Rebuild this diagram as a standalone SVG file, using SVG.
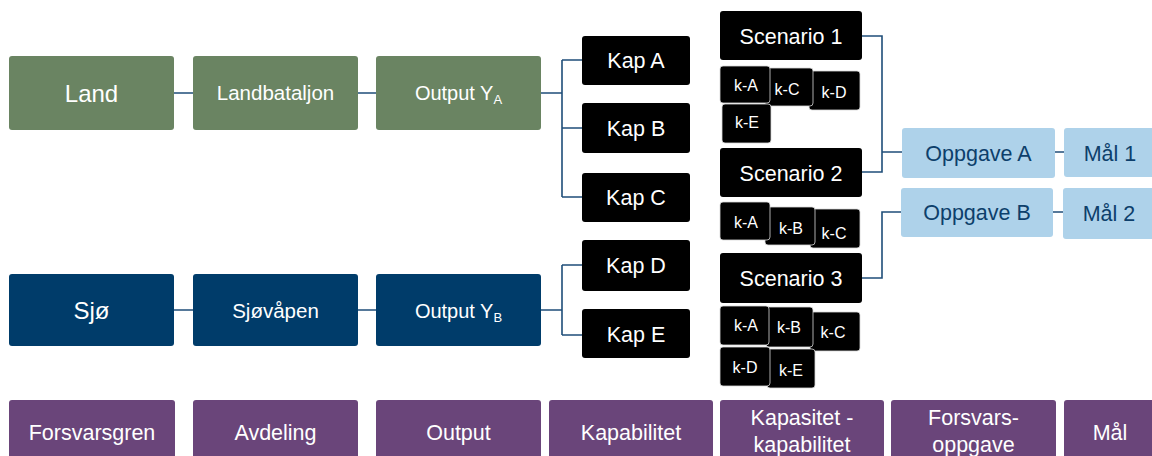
<svg xmlns="http://www.w3.org/2000/svg" width="1152" height="456" viewBox="0 0 1152 456">
<style>
text{font-family:"Liberation Sans",Arial,sans-serif;text-anchor:middle;fill:#fff}
.g{fill:#6A8462}
.n{fill:#003C6A}
.b{fill:#000}
.k{fill:#000;stroke:#d8d8d8;stroke-width:0.8}
.l{fill:#AED2EA}
.p{fill:#6A457A}
.dt{fill:#0D3F6B}
.c{fill:none;stroke:#1F4E79;stroke-width:1.6}
</style>
<rect width="1152" height="456" fill="#fff"/>
<g id="connectors">
<path class="c" d="M174 93H193M358 93H376M541 93H562M562 60V197M562 60H582M562 128H582M562 197H582"/>
<path class="c" d="M174 310H193M358 310H376M541 310H562M562 265V335M562 265H582M562 335H582"/>
<path class="c" d="M862 36H882V172H862M882 152H902M862 278H882V212H901M1055 152H1064M1053 212H1063"/>
</g>
<g id="land"><rect class="g" x="9" y="56" width="165" height="74" rx="3"/><text x="91.5" y="101.5" font-size="24">Land</text></g>
<g id="landbataljon"><rect class="g" x="193" y="56" width="165" height="74" rx="3"/><text x="275.5" y="100" font-size="20.5">Landbataljon</text></g>
<g id="outputA"><rect class="g" x="376" y="56" width="165" height="74" rx="3"/><text x="458.5" y="100" font-size="20">Output Y<tspan font-size="13" dy="4">A</tspan></text></g>
<g id="sjo"><rect class="n" x="9" y="274" width="165" height="72" rx="3"/><text x="91.5" y="318.5" font-size="24">Sjø</text></g>
<g id="sjovapen"><rect class="n" x="193" y="274" width="165" height="72" rx="3"/><text x="275.5" y="317.5" font-size="20.5">Sjøvåpen</text></g>
<g id="outputB"><rect class="n" x="376" y="274" width="165" height="72" rx="3"/><text x="458.5" y="317.5" font-size="20">Output Y<tspan font-size="13" dy="4">B</tspan></text></g>
<g id="kapA"><rect class="b" x="582" y="36" width="108" height="49" rx="3"/><text x="636" y="68" font-size="21.5">Kap A</text></g>
<g id="kapB"><rect class="b" x="582" y="103" width="108" height="50" rx="3"/><text x="636" y="136" font-size="21.5">Kap B</text></g>
<g id="kapC"><rect class="b" x="582" y="173" width="108" height="49" rx="3"/><text x="636" y="205" font-size="21.5">Kap C</text></g>
<g id="kapD"><rect class="b" x="582" y="240" width="108" height="51" rx="3"/><text x="636" y="273" font-size="21.5">Kap D</text></g>
<g id="kapE"><rect class="b" x="582" y="309" width="108" height="49" rx="3"/><text x="636" y="341.5" font-size="21.5">Kap E</text></g>
<g id="scenario1"><rect class="b" x="720" y="11" width="142" height="49" rx="3"/><text x="791" y="43.5" font-size="21.5">Scenario 1</text></g>
<g id="s1-kD"><rect class="k" x="809" y="71" width="51" height="39" rx="3"/><text x="834" y="97.5" font-size="16">k-D</text></g>
<g id="s1-kC"><rect class="k" x="765" y="68" width="48" height="38" rx="3"/><text x="787" y="95" font-size="16">k-C</text></g>
<g id="s1-kA"><rect class="k" x="720" y="66" width="50" height="37" rx="3"/><text x="746" y="91" font-size="16">k-A</text></g>
<g id="s1-kE"><rect class="k" x="722" y="104" width="49" height="39" rx="3"/><text x="747" y="127.5" font-size="16">k-E</text></g>
<g id="scenario2"><rect class="b" x="720" y="148" width="142" height="49" rx="3"/><text x="791" y="180.5" font-size="21.5">Scenario 2</text></g>
<g id="s2-kC"><rect class="k" x="810" y="209" width="50" height="39" rx="3"/><text x="834" y="239" font-size="16">k-C</text></g>
<g id="s2-kB"><rect class="k" x="765" y="207" width="50" height="38" rx="3"/><text x="791" y="234" font-size="16">k-B</text></g>
<g id="s2-kA"><rect class="k" x="720" y="202" width="50" height="38" rx="3"/><text x="746" y="227.5" font-size="16">k-A</text></g>
<g id="scenario3"><rect class="b" x="720" y="253" width="142" height="50" rx="3"/><text x="791" y="286" font-size="21.5">Scenario 3</text></g>
<g id="s3-kC"><rect class="k" x="810" y="312" width="50" height="39" rx="3"/><text x="833" y="337.5" font-size="16">k-C</text></g>
<g id="s3-kB"><rect class="k" x="766" y="307" width="47" height="40" rx="3"/><text x="789" y="332.5" font-size="16">k-B</text></g>
<g id="s3-kA"><rect class="k" x="720" y="306" width="49" height="39" rx="3"/><text x="746" y="331" font-size="16">k-A</text></g>
<g id="s3-kE"><rect class="k" x="767" y="349" width="48" height="39" rx="3"/><text x="791" y="376" font-size="16">k-E</text></g>
<g id="s3-kD"><rect class="k" x="720" y="347" width="50" height="39" rx="3"/><text x="745" y="372.5" font-size="16">k-D</text></g>
<g id="oppgaveA"><rect class="l" x="902" y="128" width="153" height="50" rx="3"/><text class="dt" x="978.5" y="161" font-size="21.5">Oppgave A</text></g>
<g id="mal1"><rect class="l" x="1064" y="128" width="92" height="49" rx="3"/><text class="dt" x="1110" y="160.5" font-size="21.5">Mål 1</text></g>
<g id="oppgaveB"><rect class="l" x="901" y="188" width="152" height="49" rx="3"/><text class="dt" x="977" y="220" font-size="21.5">Oppgave B</text></g>
<g id="mal2"><rect class="l" x="1063" y="188" width="93" height="51" rx="3"/><text class="dt" x="1109" y="221" font-size="21.5">Mål 2</text></g>
<g id="forsvarsgren"><rect class="p" x="9" y="400" width="166" height="62" rx="3"/><text x="92" y="440" font-size="21.5">Forsvarsgren</text></g>
<g id="avdeling"><rect class="p" x="193" y="400" width="165" height="62" rx="3"/><text x="275.5" y="440" font-size="21.5">Avdeling</text></g>
<g id="output"><rect class="p" x="376" y="400" width="165" height="62" rx="3"/><text x="458.5" y="440" font-size="21.5">Output</text></g>
<g id="kapabilitet"><rect class="p" x="549" y="400" width="164" height="62" rx="3"/><text x="631" y="440" font-size="21.5">Kapabilitet</text></g>
<g id="kapasitet"><rect class="p" x="720" y="400" width="164" height="62" rx="3"/><text x="802" y="424.5" font-size="21.5">Kapasitet -</text><text x="802" y="451.5" font-size="21.5">kapabilitet</text></g>
<g id="forsvarsoppgave"><rect class="p" x="891" y="400" width="165" height="62" rx="3"/><text x="973.5" y="424.5" font-size="21.5">Forsvars-</text><text x="973.5" y="451.5" font-size="21.5">oppgave</text></g>
<g id="mal"><rect class="p" x="1064" y="400" width="92" height="62" rx="3"/><text x="1110" y="440" font-size="21.5">Mål</text></g>
</svg>
